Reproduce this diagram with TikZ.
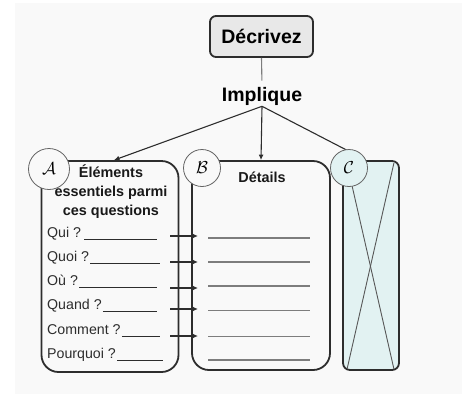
\documentclass[tikz,border=0pt]{standalone}
\usepackage{fontspec}
\setmainfont{Liberation Sans}
\usetikzlibrary{arrows.meta}
\definecolor{bg}{RGB}{249,249,249}
\definecolor{edge}{RGB}{45,45,45}
\definecolor{cyanfill}{RGB}{226,242,242}
\definecolor{titlefill}{RGB}{232,232,232}
\definecolor{ringgray}{RGB}{100,100,100}
\definecolor{linegray}{RGB}{125,125,125}
\begin{document}
\begin{tikzpicture}[x=1pt,y=-1pt,
  panel/.style={draw=edge,line width=1.8pt,rounded corners=17pt,inner sep=0pt},
  ring/.style={circle,draw=ringgray,line width=0.8pt,inner sep=0pt,font=\fontsize{18}{18}\selectfont},
  arr/.style={draw=edge,line width=1.1pt,-{Latex[length=5.5pt,width=5pt]}},
  q/.style={inner sep=0pt,font=\fontsize{14.2}{16}\selectfont,text=edge},
  blank/.style={draw=edge,line width=0.9pt},
  detail/.style={draw=linegray,line width=1.7pt},
  head/.style={font=\bfseries\fontsize{14.4}{19}\selectfont,text=black!90,align=center}
]
\useasboundingbox (0,0) rectangle (462,394);
\fill[white] (0,0) rectangle (462,394);
\fill[bg] (15,3) rectangle (462,394);

% title
\node[draw=edge,line width=1.8pt,rounded corners=6pt,fill=titlefill,minimum width=103pt,minimum height=41pt,inner sep=0pt,font=\bfseries\fontsize{19.5}{19.5}\selectfont] (decr) at (261.5,36.5) {Décrivez};
\node[inner sep=1pt,font=\bfseries\fontsize{19.5}{19.5}\selectfont] (impl) at (262,96) {Implique};
\draw[draw=linegray,line width=1.1pt,shorten >=5pt] (decr.south) -- (impl.north);

% panels
\node[panel,minimum width=137pt,minimum height=211pt] (boxA) at (110,266.5) {};
\node[panel,minimum width=138pt,minimum height=209pt] (boxB) at (261,265.5) {};
\node[panel,rounded corners=7pt,fill=cyanfill,minimum width=56pt,minimum height=209pt] (boxC) at (371,265.5) {};
\draw[draw=edge!80,line width=0.9pt] ([shift={(5,4)}]boxC.north west) -- ([shift={(-6,-2)}]boxC.south east);
\draw[draw=edge!80,line width=0.9pt] ([shift={(-6,3)}]boxC.north east) -- ([shift={(5,-2)}]boxC.south west);

% connectors from Implique
\draw[arr] (impl.south) -- ([xshift=4pt]boxA.north);
\draw[arr] (impl.south) -- (boxB.north);
\draw[arr] (impl.south) -- ([xshift=-5pt]boxC.north);

% circles
\node[ring,fill=bg,minimum size=41pt] (cA) at (49,169) {$\mathcal{A}$};
\node[ring,fill=bg,minimum size=37pt] (cB) at (202,168) {$\mathcal{B}$};
\node[ring,fill=cyanfill,minimum size=37pt] (cC) at (349,168) {$\mathcal{C}$};

% headings
\node[head] (hA) at (111,192) {Éléments\\essentiels parmi\\ces questions};
\node[head] (hB) at (262,177) {Détails};

% questions
\node[q,anchor=base west] (q1) at (47,237.5) {Qui ?};
\node[q,anchor=base west] (q2) at (47,261.5) {Quoi ?};
\node[q,anchor=base west] (q3) at (47,285.5) {Où ?};
\node[q,anchor=base west] (q4) at (47,309.5) {Quand ?};
\node[q,anchor=base west] (q5) at (47,334.5) {Comment ?};
\node[q,anchor=base west] (q6) at (47,358.5) {Pourquoi ?};
\coordinate (e1) at (157,239.5);
\coordinate (e2) at (160,263.5);
\coordinate (e3) at (157,287.5);
\coordinate (e4) at (157,311.5);
\coordinate (e5) at (160,336.5);
\coordinate (e6) at (163,360.5);
\draw[blank] (q1.base east) ++(3,2) -- (e1);
\draw[blank] (q2.base east) ++(1,2) -- (e2);
\draw[blank] (q3.base east) ++(1,2) -- (e3);
\draw[blank] (q4.base east) ++(1,2) -- (e4);
\draw[blank] (q5.base east) ++(1,2) -- (e5);
\draw[blank] (q6.base east) ++(1,2) -- (e6);

% arrows between panels
\foreach \i/\y in {1/236,2/262,3/288,4/309,5/336}{
  \coordinate (s\i) at (170,\y);
  \coordinate (t\i) at (198,\y);
  \draw[arr] (s\i) -- (t\i);
}

% detail lines
\foreach \i/\y in {1/238,2/262,3/286,4/310.5,5/336.5,6/360}{
  \coordinate (dl\i) at (208,\y);
  \coordinate (dr\i) at (310,\y);
  \draw[detail] (dl\i) -- (dr\i);
}
\end{tikzpicture}
\end{document}
